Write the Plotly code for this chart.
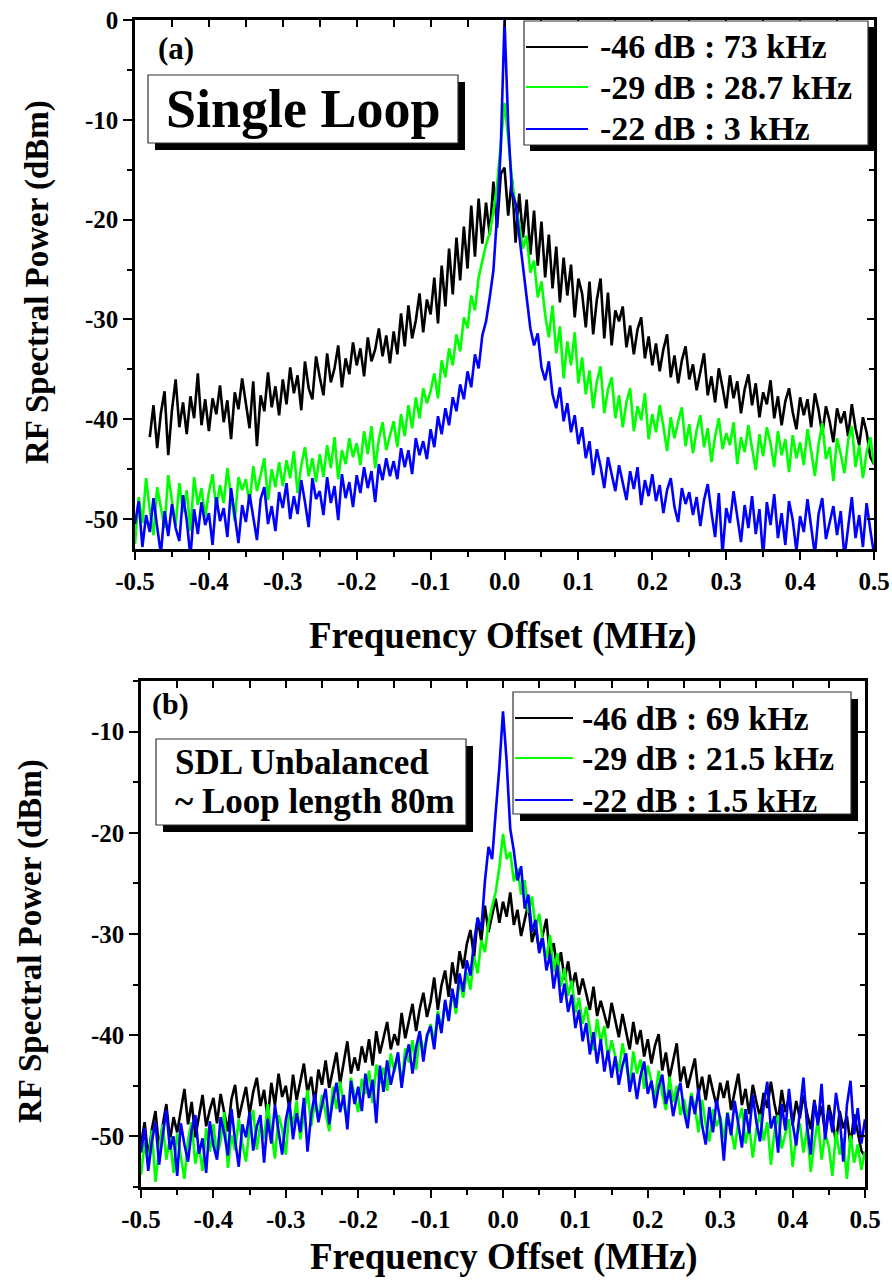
import plotly.graph_objects as go

W, H = 892, 1282
FONT = "Liberation Serif, Times New Roman, Times, DejaVu Serif, serif"

# ---------------- data ----------------
freq = [round(-0.5 + 0.005 * i, 3) for i in range(201)]  # MHz

a_black = [None, None, None, None,
    -41.8, -38.6, -42.9, -39.4, -37.2, -43.6,
    -39.1, -36.0, -40.8, -38.3, -41.5, -37.7, -39.9, -35.4, -40.6, -38.0,
    -41.2, -37.9, -39.5, -36.6, -40.3, -38.1, -42.0, -37.3, -39.0, -35.9,
    -38.4, -40.9, -36.2, -42.7, -37.6, -39.2, -35.3, -38.8, -36.7, -39.6,
    -36.0, -38.5, -34.8, -37.4, -35.6, -39.1, -34.2, -36.9, -38.0, -33.7,
    -35.8, -37.6, -33.4, -36.3, -34.9, -32.6, -36.8, -33.9, -35.5, -32.3,
    -34.6, -32.9, -35.7, -31.8, -34.2, -33.0, -30.9, -33.7, -31.6, -34.4,
    -31.2, -33.5, -29.4, -32.7, -28.6, -31.9, -30.1, -27.4, -31.3, -28.0,
    -29.5, -25.8, -30.4, -24.6, -28.7, -22.9, -27.5, -21.8, -26.1, -20.7,
    -24.9, -18.6, -23.7, -17.9, -22.4, -18.3, -21.5, -16.2, -20.8, -15.4,
    -14.8,
    -19.6, -15.9, -22.3, -17.4, -21.8, -18.0, -23.5, -19.1, -24.6, -20.2,
    -25.8, -21.5, -26.9, -22.7, -28.3, -23.8, -27.6, -24.5, -29.8, -25.9,
    -27.4, -30.8, -26.2, -31.5, -28.0, -25.9, -31.9, -27.3, -32.6, -29.1,
    -30.2, -28.7, -32.8, -30.6, -33.5, -31.0, -29.8, -33.9, -31.7, -34.6,
    -32.4, -35.2, -33.0, -31.5, -35.8, -33.6, -36.4, -34.1, -32.7, -36.0,
    -34.5, -37.1, -35.3, -33.4, -37.6, -35.7, -38.3, -34.9, -36.8, -38.9,
    -35.6, -37.9, -36.2, -39.4, -37.0, -35.5, -38.6, -36.4, -39.8, -37.3,
    -38.5, -36.1, -39.9, -37.7, -40.6, -38.2, -36.9, -39.3, -41.0, -37.8,
    -39.6, -38.0, -40.8, -37.4, -39.1, -41.5, -38.7, -40.2, -42.3, -38.9,
    -40.4, -39.2, -41.7, -38.5, -40.9, -42.6, -39.8, -41.3, -43.8, -44.5]

a_green = [
    -52.5, -47.8, -50.4, -45.9, -49.1, -51.6, -46.8, -48.7, -50.9, -45.6,
    -48.2, -50.7, -46.4, -49.3, -47.1, -51.2, -45.8, -48.6, -46.9, -49.8,
    -47.3, -45.5, -49.0, -46.6, -48.4, -44.9, -47.7, -50.2, -45.8, -47.1,
    -46.0, -48.5, -44.7, -47.2, -45.6, -43.9, -48.1, -45.0, -46.8, -44.3,
    -46.7, -44.1, -45.9, -43.2, -47.4, -44.6, -42.8, -45.7, -43.9, -46.3,
    -43.5, -45.8, -42.6, -44.9, -41.8, -46.0, -43.1, -44.5, -41.9, -43.8,
    -42.4, -44.6, -41.2, -43.5, -40.7, -44.9, -42.0, -40.3, -43.1, -41.5,
    -40.2, -42.8, -39.5, -41.7, -38.6, -40.9, -37.8, -39.9, -36.9, -38.4,
    -37.2, -35.4, -37.9, -34.1, -35.8, -32.9, -34.6, -31.5, -33.2, -29.8,
    -30.9, -27.6, -29.1, -25.8, -24.2, -22.5, -21.3, -19.2, -16.5, -12.6,
    -8.3,
    -11.8, -15.9, -18.7, -20.4, -22.9, -21.6, -25.3, -24.1, -27.8, -26.2,
    -29.5, -31.8, -28.6, -33.4, -30.7, -35.9, -32.2, -34.6, -31.3, -36.4,
    -33.8, -37.5, -35.1, -38.9, -36.2, -34.7, -39.4, -37.0, -35.8, -39.9,
    -37.6, -40.8, -38.3, -36.9, -41.2, -38.7, -40.1, -37.4, -42.0, -39.5,
    -41.3, -38.6, -40.7, -43.2, -39.8, -41.9, -40.2, -38.8, -42.7, -40.5,
    -43.4, -41.1, -39.6, -42.8, -40.9, -44.3, -41.7, -39.9, -43.0, -41.4,
    -42.6, -40.3, -44.5, -41.8, -43.3, -40.6, -42.9, -45.1, -41.5, -43.7,
    -40.8, -42.4, -44.8, -41.2, -43.6, -42.0, -45.3, -41.6, -43.9, -42.3,
    -44.6, -41.0, -43.2, -45.7, -42.5, -40.4, -44.0, -42.8, -46.2, -41.9,
    -43.5, -45.4, -42.1, -40.7, -44.8, -42.6, -45.9, -43.3, -41.8, -44.5]

a_blue = [
    -50.5, -48.2, -52.8, -49.6, -51.3, -47.9, -50.8, -53.5, -49.2, -51.7,
    -48.5, -50.9, -52.2, -47.6, -50.1, -53.8, -49.0, -51.5, -48.3, -50.6,
    -49.4, -52.6, -47.8, -50.2, -48.9, -51.8, -46.9, -49.7, -52.4, -48.6,
    -50.3, -47.5, -49.8, -52.1, -48.0, -46.8, -50.5, -48.7, -51.2, -47.3,
    -48.9, -46.4, -50.0, -47.7, -49.5, -46.1, -48.3, -50.8, -45.9, -48.0,
    -47.2, -49.6, -45.8, -48.4, -46.7, -50.1, -45.5, -47.9, -46.3, -48.8,
    -45.6, -47.4, -44.8, -46.9, -45.2, -48.3, -44.5, -46.1, -43.9, -45.7,
    -44.2, -46.0, -42.9, -44.8, -43.1, -45.5, -41.9, -43.6, -42.2, -44.0,
    -41.0, -42.8, -39.7, -41.5, -38.9, -40.6, -37.8, -39.2, -36.5, -38.0,
    -35.2, -36.8, -33.5, -34.9, -31.6, -30.2, -27.8, -25.1, -19.5, -12.8,
    0.0,
    -10.5, -17.2, -18.4, -21.6, -24.8, -28.3, -30.9, -32.6, -31.4, -34.8,
    -36.1, -34.2, -37.5, -38.9, -36.8, -40.2, -38.4, -41.3, -39.6, -42.5,
    -40.8, -43.9, -42.2, -45.6, -43.0, -44.7, -46.9, -43.8, -45.4, -47.2,
    -44.6, -46.3, -48.1, -45.2, -47.0, -44.8, -48.6, -46.1, -47.7, -45.5,
    -48.2, -46.6, -49.4, -47.1, -45.9, -48.8, -50.3, -46.9, -48.5, -47.3,
    -49.6, -47.8, -50.7, -48.1, -46.5, -49.3, -51.8, -47.4, -53.5, -48.9,
    -50.4, -47.2, -49.8, -52.3, -48.6, -50.9, -47.7, -51.5, -49.0, -53.8,
    -48.3, -50.6, -47.5, -51.9, -49.4, -52.6, -48.2, -50.1, -53.2, -49.7,
    -51.3, -48.0, -50.8, -53.6, -49.5, -47.9, -52.0, -50.3, -48.7, -51.6,
    -49.2, -53.9, -50.5, -47.8, -51.9, -49.6, -52.8, -48.4, -51.1, -53.5]

b_black = [
    -50.8, -48.6, -52.1, -49.3, -47.5, -51.2, -48.9, -46.8, -50.4, -48.1,
    -49.6, -47.2, -45.3, -48.8, -46.6, -50.1, -47.9, -45.9, -49.0, -47.4,
    -46.2, -48.7, -45.8, -47.6, -49.5, -46.3, -44.9, -48.2, -46.5, -45.1,
    -47.8, -45.6, -44.2, -47.0, -45.4, -48.3, -44.7, -46.9, -43.8, -46.1,
    -45.0, -47.3, -43.9, -46.4, -44.6, -42.8, -45.7, -44.1, -46.8, -43.4,
    -44.9, -42.5, -45.2, -43.6, -41.7, -44.8, -42.9, -40.6, -43.8, -42.2,
    -43.5, -41.1, -42.7, -40.4, -43.0, -39.6, -41.8, -40.2, -38.7, -41.4,
    -39.9, -41.0, -37.8, -40.3, -38.5, -36.9, -39.6, -37.4, -35.8, -38.2,
    -36.7, -34.3, -37.5, -35.1, -33.6, -36.2, -32.8, -34.9, -31.7, -33.4,
    -31.0, -29.6, -32.3, -28.4, -30.7, -27.2, -29.8, -28.0, -26.5, -28.9,
    -26.8,
    -28.3, -25.9, -29.1, -27.6, -30.2, -28.7, -27.0, -30.8, -29.4, -31.6,
    -30.1, -28.5, -32.4, -30.9, -33.6, -31.8, -34.5, -32.7, -35.3, -33.8,
    -36.0, -34.4, -35.9, -37.5, -35.2, -38.1, -36.6, -37.9, -39.3, -36.8,
    -38.6, -40.2, -37.9, -39.8, -41.4, -38.7, -40.9, -39.5, -42.1, -40.4,
    -42.8, -41.0, -39.9, -43.5, -41.7, -44.2, -42.4, -40.8, -44.6, -43.1,
    -45.2, -43.6, -42.3, -45.8, -44.1, -46.4, -43.9, -45.5, -47.0, -44.7,
    -46.2, -44.5, -47.4, -45.6, -43.8, -46.9, -45.3, -47.8, -44.9, -46.6,
    -48.1, -45.7, -47.2, -44.6, -46.8, -48.5, -45.4, -47.6, -46.1, -48.9,
    -46.5, -48.2, -45.9, -47.7, -49.3, -46.4, -48.6, -47.0, -49.8, -46.9,
    -48.4, -50.6, -47.5, -49.2, -48.0, -50.9, -47.8, -49.6, -51.4, -52.0]

b_green = [
    -53.8, -50.6, -52.9, -49.4, -54.5, -51.2, -48.8, -52.3, -50.1, -53.6,
    -49.7, -51.8, -54.2, -50.3, -48.6, -52.7, -50.9, -53.4, -49.2, -51.5,
    -48.8, -52.0, -50.4, -47.6, -53.1, -49.9, -51.4, -48.3, -50.7, -52.5,
    -49.1, -47.4, -51.3, -48.7, -50.2, -46.8, -49.6, -52.2, -47.9, -49.3,
    -51.8, -47.2, -48.9, -46.5, -50.3, -47.8, -45.4, -49.0, -46.7, -48.2,
    -45.9, -47.7, -49.5, -45.1, -47.3, -44.6, -46.9, -48.4, -44.2, -46.0,
    -47.6, -44.3, -45.8, -43.5, -46.7, -42.9, -44.8, -43.2, -45.5, -41.8,
    -43.6, -42.0, -44.9, -41.3, -42.7, -40.5, -43.4, -39.8, -41.6, -40.3,
    -38.9, -40.7, -37.6, -39.4, -36.8, -38.5, -35.7, -37.9, -34.6, -36.3,
    -33.8, -35.5, -32.2, -33.9, -30.6, -31.8, -28.9, -27.3, -25.8, -23.4,
    -20.1,
    -22.6, -21.9, -24.8, -23.5, -26.1, -24.7, -27.9, -26.3, -29.5, -28.0,
    -30.8, -32.4, -30.1, -33.7, -31.9, -35.2, -33.4, -36.1, -34.6, -37.8,
    -36.3, -38.9, -37.2, -39.6, -41.5, -38.4, -40.7, -39.1, -42.3, -40.5,
    -41.9, -43.6, -40.8, -42.7, -44.9, -41.6, -43.8, -42.4, -45.3, -43.0,
    -44.7, -46.2, -43.5, -45.8, -47.4, -44.1, -46.6, -45.0, -47.9, -46.3,
    -48.2, -45.7, -47.1, -49.6, -46.4, -48.8, -50.5, -47.3, -49.0, -48.0,
    -50.2, -47.6, -49.4, -51.3, -48.5, -47.2, -50.7, -48.9, -52.1, -49.3,
    -47.8, -50.4, -48.6, -52.8, -49.5, -47.9, -51.2, -49.8, -48.3, -53.0,
    -50.1, -48.7, -51.6, -49.2, -53.5, -50.6, -48.4, -52.3, -49.7, -51.0,
    -53.9, -49.5, -51.8, -50.2, -54.2, -49.9, -52.6, -50.8, -53.3, -51.5]

b_blue = [
    -51.6, -49.2, -53.4, -50.5, -48.6, -52.8, -49.9, -47.4, -51.3, -50.0,
    -53.9, -48.7, -50.8, -52.5, -49.4, -47.9, -51.7, -50.2, -53.6, -48.5,
    -50.9, -52.3, -48.1, -49.7, -51.9, -47.3, -50.4, -53.0, -48.8, -50.1,
    -47.6, -51.4, -49.0, -47.9, -52.6, -48.3, -50.7, -46.9, -49.5, -51.8,
    -48.4, -46.6, -50.3, -47.7, -49.6, -46.2, -51.5, -47.9, -45.8, -48.6,
    -46.9, -45.3, -48.8, -46.4, -44.7, -47.6, -45.9, -49.3, -44.5, -46.8,
    -45.1, -47.5, -43.8, -46.2, -44.4, -48.7, -43.0, -45.6, -42.5, -44.9,
    -43.3, -41.7, -45.2, -42.4, -40.9, -43.8, -41.2, -39.6, -42.6, -40.0,
    -39.1, -41.4, -37.9, -39.8, -36.5, -38.6, -35.4, -37.3, -33.9, -35.7,
    -32.6, -34.1, -30.8, -28.4, -29.6, -24.8, -21.4, -22.6, -17.9, -13.5,
    -8.0,
    -12.9, -19.6, -21.8, -24.7, -23.3, -27.5, -26.1, -29.8, -28.6, -31.9,
    -30.4, -33.6, -32.0, -35.4, -33.1, -36.8, -34.9, -37.7, -36.0, -39.3,
    -37.5, -40.6, -38.8, -41.9, -39.7, -42.8, -40.4, -43.6, -41.5, -44.2,
    -42.1, -44.9, -43.0, -41.8, -45.6, -43.7, -46.3, -44.0, -42.6, -45.8,
    -44.5, -47.2, -45.1, -43.9, -46.8, -45.4, -48.0, -46.1, -44.7, -47.5,
    -49.2, -46.0, -47.8, -45.3, -48.9, -50.8, -47.1, -49.6, -46.4, -48.3,
    -52.4, -47.7, -49.9, -46.5, -48.8, -51.1, -47.3, -49.7, -45.9, -48.6,
    -50.5, -47.0, -44.6, -49.2, -48.0, -51.6, -46.8, -49.4, -45.3, -48.7,
    -50.9, -47.5, -44.2, -49.0, -51.8, -46.6, -48.9, -44.8, -50.3, -47.4,
    -49.6, -45.7, -48.1, -52.5, -46.9, -44.5, -49.8, -47.2, -50.7, -48.3]

series_colors = ["#000000", "#00ff00", "#0000ff"]
a_legend = ["-46 dB : 73 kHz", "-29 dB : 28.7 kHz", "-22 dB : 3 kHz"]
b_legend = ["-46 dB : 69 kHz", "-29 dB : 21.5 kHz", "-22 dB : 1.5 kHz"]

x_tick_vals = [-0.5, -0.4, -0.3, -0.2, -0.1, 0.0, 0.1, 0.2, 0.3, 0.4, 0.5]
x_tick_text = ["-0.5", "-0.4", "-0.3", "-0.2", "-0.1", "0.0", "0.1", "0.2", "0.3", "0.4", "0.5"]
a_y_tick_vals = [0, -10, -20, -30, -40, -50]
a_y_tick_text = ["0", "-10", "-20", "-30", "-40", "-50"]
b_y_tick_vals = [-10, -20, -30, -40, -50]
b_y_tick_text = ["-10", "-20", "-30", "-40", "-50"]

x_title = "Frequency Offset (MHz)"
y_title = "RF Spectral Power (dBm)"
a_label, b_label = "(a)", "(b)"
a_box_text = "Single Loop"
b_box_lines = ["SDL Unbalanced", "~ Loop length 80m"]

a_xrange = [-0.5, 0.5]
a_yrange = [-53, 0]
b_xrange = [-0.5, 0.5]
b_yrange = [-55, -5]

# ---------------- helpers (pixel -> paper) ----------------
def px(x):
    return x / W

def py(y):
    return 1 - y / H

fig = go.Figure()

LW = 2.6
for ys, c in zip([a_black, a_green, a_blue], series_colors):
    fig.add_trace(go.Scatter(x=freq, y=ys, mode="lines", line=dict(color=c, width=LW),
                             xaxis="x", yaxis="y", showlegend=False, hoverinfo="skip"))
for ys, c in zip([b_black, b_green, b_blue], series_colors):
    fig.add_trace(go.Scatter(x=freq, y=ys, mode="lines", line=dict(color=c, width=LW),
                             xaxis="x2", yaxis="y2", showlegend=False, hoverinfo="skip"))
# empty traces that only make the mirrored (top / right) frame axes exist
fig.add_trace(go.Scatter(x=[], y=[], xaxis="x3", yaxis="y3", showlegend=False, hoverinfo="skip"))
fig.add_trace(go.Scatter(x=[], y=[], xaxis="x4", yaxis="y4", showlegend=False, hoverinfo="skip"))

tickfont = dict(family=FONT, size=25, color="black", weight="bold")

def bottom_x(domain, anchor, rng):
    return dict(domain=domain, anchor=anchor, range=rng, tickmode="array", automargin=False,
                tickvals=x_tick_vals, ticktext=x_tick_text, ticks="outside", ticklen=8,
                tickwidth=2, tickcolor="black", showline=True, linewidth=2.5, linecolor="black",
                showgrid=False, zeroline=False, tickfont=tickfont,
                minor=dict(ticks="outside", ticklen=5, tickwidth=2, tickcolor="black", dtick=0.05,
                           tick0=0, showgrid=False))

def top_x(overlay, anchor, rng):
    return dict(overlaying=overlay, anchor=anchor, side="top", range=rng, tickmode="array",
                automargin=False,
                tickvals=x_tick_vals, ticks="inside", ticklen=7, tickwidth=2, tickcolor="black",
                showticklabels=False, showline=True, linewidth=2.5, linecolor="black",
                showgrid=False, zeroline=False,
                minor=dict(ticks="inside", ticklen=7, tickwidth=2, tickcolor="black", dtick=0.05,
                           tick0=0, showgrid=False))

def left_y(domain, anchor, rng, tv, tt):
    return dict(domain=domain, anchor=anchor, range=rng, tickmode="array", automargin=False,
                tickvals=tv, ticktext=tt, ticks="outside", ticklen=9,
                tickwidth=2, tickcolor="black", showline=True, linewidth=2.5, linecolor="black",
                showgrid=False, zeroline=False, tickfont=tickfont,
                minor=dict(ticks="outside", ticklen=5, tickwidth=2, tickcolor="black", dtick=5,
                           tick0=0, showgrid=False))

def right_y(overlay, anchor, rng, tv):
    return dict(overlaying=overlay, anchor=anchor, side="right", range=rng, tickmode="array",
                automargin=False,
                tickvals=tv, ticks="inside", ticklen=7, tickwidth=2, tickcolor="black",
                showticklabels=False, showline=True, linewidth=2.5, linecolor="black",
                showgrid=False, zeroline=False,
                minor=dict(ticks="inside", ticklen=5, tickwidth=2, tickcolor="black", dtick=5,
                           tick0=0, showgrid=False))

a_xdom = [px(135), px(874)]
a_ydom = [py(549), py(20)]
b_xdom = [px(141), px(865)]
b_ydom = [py(1187), py(681)]

fig.update_layout(
    width=W, height=H, autosize=False,
    margin=dict(l=0, r=0, t=0, b=0, pad=0),
    paper_bgcolor="white", plot_bgcolor="white",
    xaxis=bottom_x(a_xdom, "y", a_xrange),
    yaxis=left_y(a_ydom, "x", a_yrange, a_y_tick_vals, a_y_tick_text),
    xaxis3=top_x("x", "y3", a_xrange),
    yaxis3=right_y("y", "x3", a_yrange, a_y_tick_vals),
    xaxis2=bottom_x(b_xdom, "y2", b_xrange),
    yaxis2=left_y(b_ydom, "x2", b_yrange, b_y_tick_vals, b_y_tick_text),
    xaxis4=top_x("x2", "y4", b_xrange),
    yaxis4=right_y("y2", "x4", b_yrange, b_y_tick_vals),
    showlegend=False,
)

shapes = []
annotations = []

def shadow_box(x0, y0, x1, y1, off=7):
    shapes.append(dict(type="rect", xref="paper", yref="paper",
                       x0=px(x0 + off), x1=px(x1 + off), y0=py(y1 + off), y1=py(y0 + off),
                       fillcolor="black", line=dict(width=0), layer="above"))
    shapes.append(dict(type="rect", xref="paper", yref="paper",
                       x0=px(x0), x1=px(x1), y0=py(y1), y1=py(y0),
                       fillcolor="white", line=dict(color="#333333", width=1.2), layer="above"))

def text(x, y, s, size, xanchor="center", angle=0):
    annotations.append(dict(x=px(x), y=py(y), xref="paper", yref="paper", text=s,
                            showarrow=False, xanchor=xanchor, yanchor="middle", textangle=angle,
                            font=dict(family=FONT, size=size, color="black", weight="bold")))

# panel (a) decorations
shadow_box(148, 75, 458, 143, off=7)
text(303, 109, a_box_text, 54)
shadow_box(524, 21, 868, 145, off=6)
for k, (lab, c) in enumerate(zip(a_legend, series_colors)):
    yy = [47, 87, 129][k]
    shapes.append(dict(type="line", xref="paper", yref="paper", x0=px(526), x1=px(588),
                       y0=py(yy), y1=py(yy), line=dict(color=c, width=2), layer="above"))
    text(598, yy, lab, 34, xanchor="left")
text(176, 48, a_label, 31)
text(37, 282, y_title, 33, angle=-90)
text(503, 636, x_title, 37)

# panel (b) decorations
shadow_box(156, 739, 466, 825, off=7)
text(173, 762, b_box_lines[0], 35, xanchor="left")
text(173, 801, b_box_lines[1], 35, xanchor="left")
shadow_box(513, 692, 851, 814, off=7)
for k, (lab, c) in enumerate(zip(b_legend, series_colors)):
    yy = [718, 758, 800][k]
    shapes.append(dict(type="line", xref="paper", yref="paper", x0=px(515), x1=px(573),
                       y0=py(yy), y1=py(yy), line=dict(color=c, width=2), layer="above"))
    text(580, yy, lab, 34, xanchor="left")
text(170, 704, b_label, 30)
text(30, 941, y_title, 33, angle=-90)
text(504, 1257, x_title, 37)

fig.update_layout(shapes=shapes, annotations=annotations)
fig.write_html("out.html")
